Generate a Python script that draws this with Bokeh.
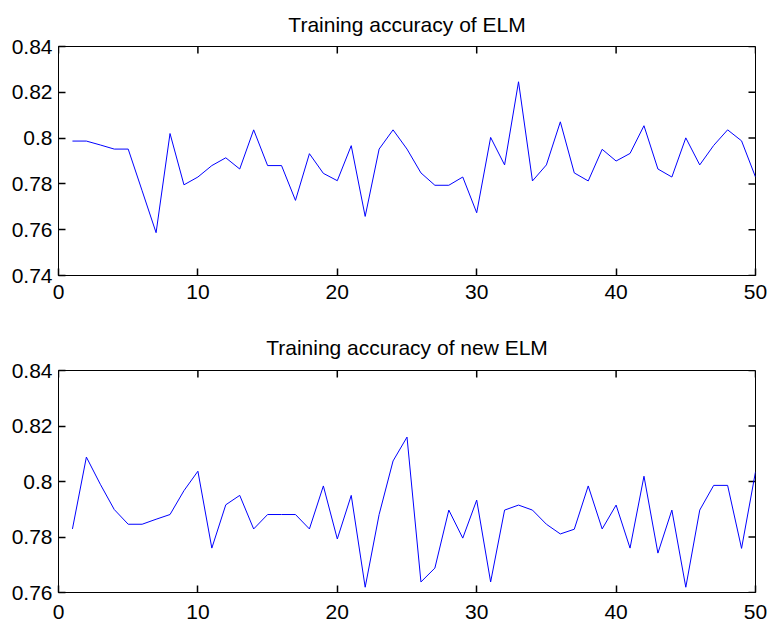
from bokeh.plotting import figure
from bokeh.models import Range1d, FixedTicker, PrintfTickFormatter
from bokeh.layouts import column
from bokeh.embed import file_html
from bokeh.resources import INLINE

runs = list(range(1, 51))

elm_acc = [0.7987, 0.7987, 0.7970, 0.7952, 0.7952, 0.7770, 0.7587, 0.8020, 0.7796, 0.7830,
           0.7880, 0.7914, 0.7865, 0.8036, 0.7880, 0.7880, 0.7728, 0.7932, 0.7846, 0.7814,
           0.7967, 0.7658, 0.7952, 0.8036, 0.7952, 0.7848, 0.7794, 0.7794, 0.7830, 0.7674,
           0.8003, 0.7883, 0.8246, 0.7813, 0.7883, 0.8071, 0.7848, 0.7813, 0.7951, 0.7900,
           0.7933, 0.8054, 0.7865, 0.7830, 0.8001, 0.7883, 0.7968, 0.8036, 0.7988, 0.7830]

new_elm_acc = [0.7829, 0.8088, 0.7990, 0.7899, 0.7846, 0.7846, 0.7864, 0.7881, 0.7967, 0.8037,
               0.7760, 0.7916, 0.7950, 0.7829, 0.7881, 0.7881, 0.7881, 0.7829, 0.7984, 0.7793,
               0.7950, 0.7619, 0.7881, 0.8074, 0.8160, 0.7638, 0.7688, 0.7897, 0.7796, 0.7933,
               0.7638, 0.7897, 0.7915, 0.7897, 0.7846, 0.7811, 0.7828, 0.7984, 0.7829, 0.7915,
               0.7760, 0.8019, 0.7742, 0.7897, 0.7619, 0.7897, 0.7986, 0.7986, 0.7759, 0.8035]

x_ticks = [0, 10, 20, 30, 40, 50]
x_tick_labels = ["0", "10", "20", "30", "40", "50"]
top_y_ticks = [0.74, 0.76, 0.78, 0.80, 0.82, 0.84]
top_y_labels = ["0.74", "0.76", "0.78", "0.8", "0.82", "0.84"]
bot_y_ticks = [0.76, 0.78, 0.80, 0.82, 0.84]
bot_y_labels = ["0.76", "0.78", "0.8", "0.82", "0.84"]
titles = ["Training accuracy of ELM", "Training accuracy of new ELM"]

FONT = "Liberation Sans"
TICK_LEN = 7          # px, inward
TICK_W = 1.5
FIG_W = 768
MB_LEFT, MB_RIGHT = 58, 13


def style_axis(ax, ticks, labels, standoff):
    ax.ticker = FixedTicker(ticks=list(ticks))
    # "%g" prints the tick values exactly as the label lists read (0.8, 0.74, 10 ...)
    ax.formatter = PrintfTickFormatter(format="%g")
    ax.major_tick_in = TICK_LEN
    ax.major_tick_out = 0
    ax.major_tick_line_color = "black"
    ax.major_tick_line_width = TICK_W
    ax.axis_line_color = "black"
    ax.axis_line_width = 1
    ax.major_label_text_font = FONT
    ax.major_label_text_color = "black"
    ax.major_label_text_font_size = "21px"
    ax.major_label_standoff = standoff


def make_plot(title, yvals, yticks, ylabels, height, mbt, mbb, xstand, tstand, frame_h):
    x0, x1 = x_ticks[0], x_ticks[-1]
    y0, y1 = yticks[0], yticks[-1]
    p = figure(width=FIG_W, height=height, output_backend="svg", toolbar_location=None,
               x_range=Range1d(x0, x1), y_range=Range1d(y0, y1),
               min_border_left=MB_LEFT, min_border_right=MB_RIGHT,
               min_border_top=mbt, min_border_bottom=mbb)
    p.title.text = title
    p.title.align = "center"
    p.title.text_font = FONT
    p.title.text_font_size = "21px"
    p.title.text_font_style = "normal"
    p.title.text_color = "black"
    p.title.standoff = tstand
    p.xgrid.visible = False
    p.ygrid.visible = False
    p.outline_line_color = "black"

    style_axis(p.xaxis[0], x_ticks, x_tick_labels, xstand)
    style_axis(p.yaxis[0], yticks, ylabels, 6)

    # inward tick marks on the top and right sides of the box (length converted from px)
    frame_w = FIG_W - MB_LEFT - MB_RIGHT
    dx = TICK_LEN * (x1 - x0) / frame_w
    dy = TICK_LEN * (y1 - y0) / frame_h
    n = len(x_ticks)
    m = len(yticks)
    p.segment(x0=list(x_ticks), y0=[y1] * n, x1=list(x_ticks), y1=[y1 - dy] * n,
              line_color="black", line_width=TICK_W)
    p.segment(x0=[x1] * m, y0=list(yticks), x1=[x1 - dx] * m, y1=list(yticks),
              line_color="black", line_width=TICK_W)

    p.line(runs, yvals, line_color="#0000ff", line_width=1)
    return p


p1 = make_plot(titles[0], elm_acc, top_y_ticks, top_y_labels, 322, 45, 47, 9, 21, 230)
p2 = make_plot(titles[1], new_elm_acc, bot_y_ticks, bot_y_labels, 300, 46, 30, 12, 23, 223)

layout = column(p1, p2, spacing=0)
open("out.html", "w").write(file_html(layout, INLINE))
